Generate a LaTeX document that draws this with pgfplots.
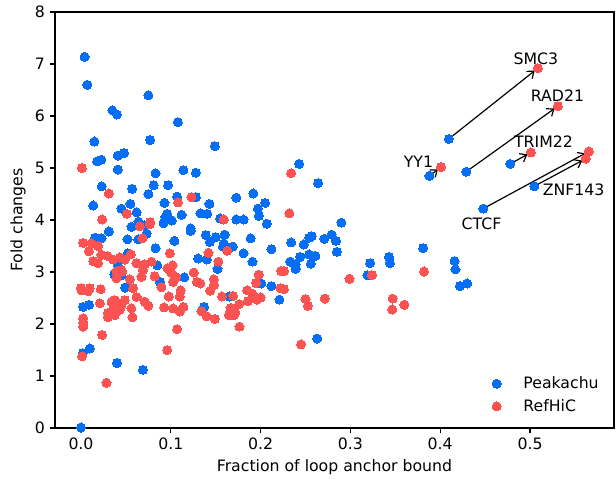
\documentclass[border=0pt]{standalone}
\usepackage{fontspec}
\setmainfont{DejaVu Sans}
\usepackage{pgfplots}
\usepackage{pgfplotstable}
\pgfplotsset{compat=1.18}
\usetikzlibrary{arrows.meta}
\definecolor{pblue}{RGB}{5,110,245}
\definecolor{rred}{RGB}{252,82,82}
\newcommand{\fs}{\fontsize{11.8}{14}\selectfont}
\pgfplotsset{dotlegend/.style={legend image code/.code={\path[draw=none, fill=none] (0cm,0cm) -- (1.0cm,0cm); \draw[##1, only marks] plot coordinates {(0.365cm,0cm)};}}}

\pgfplotstableread{
x y
0.004 7.14
0.007 6.60
0.035 6.11
0.040 6.03
0.075 6.40
0.108 5.88
0.015 5.51
0.077 5.54
0.018 5.13
0.0225 5.16
0.041 5.24
0.048 5.29
0.041 4.97
0.114 4.96
0.083 4.90
0.023 4.65
0.057 4.60
0.081 4.67
0.075 4.50
0.097 4.67
0.107 4.45
0.0136 4.28
0.055 4.31
0.093 4.33
0.045 4.22
0.062 4.15
0.112 4.10
0.096 4.12
0.094 4.06
0.097 4.02
0.101 3.99
0.092 3.94
0.149 5.42
0.128 4.91
0.243 5.08
0.264 4.71
0.128 4.44
0.143 4.31
0.173 4.43
0.192 4.51
0.205 4.33
0.197 4.22
0.198 4.08
0.133 4.13
0.1405 4.12
0.155 4.03
0.173 4.01
0.181 4.01
0.207 3.93
0.290 3.95
0.122 3.84
0.122 3.79
0.104 3.60
0.139 3.71
0.1435 3.58
0.150 3.67
0.160 3.72
0.159 3.55
0.158 3.49
0.169 3.49
0.189 3.65
0.212 3.44
0.181 3.36
0.191 3.20
0.1305 3.26
0.140 3.24
0.152 3.06
0.115 2.90
0.234 3.57
0.248 3.53
0.257 3.69
0.254 3.66
0.271 3.64
0.279 3.72
0.284 3.60
0.285 3.39
0.233 3.20
0.239 3.15
0.239 3.06
0.244 3.29
0.254 3.34
0.261 3.31
0.256 3.16
0.2007 2.78
0.212 2.73
0.221 2.47
0.165 2.53
0.137 2.33
0.263 1.72
0.319 2.94
0.322 3.17
0.0158 3.66
0.0228 3.65
0.031 3.78
0.0562 3.87
0.0518 3.63
0.0637 3.63
0.064 3.97
0.071 3.90
0.073 3.74
0.083 3.46
0.085 3.13
0.088 2.81
0.052 3.36
0.041 3.13
0.037 2.96
0.045 2.94
0.049 2.70
0.0024 2.33
0.009 2.37
0.002 1.44
0.0098 1.53
0.040 1.25
0.069 1.12
0.000 0.01
0.343 3.29
0.344 3.17
0.381 3.46
0.416 3.21
0.417 3.05
0.422 2.73
0.430 2.78
0.4096 5.56
0.429 4.93
0.478 5.08
0.388 4.85
0.448 4.22
0.5047 4.65
}\peak

\pgfplotstableread{
x y
0.001 5.00
0.031 4.51
0.108 4.34
0.051 4.12
0.0236 4.01
0.077 3.96
0.234 4.90
0.123 4.44
0.232 4.13
0.159 4.01
0.142 3.37
0.163 3.41
0.153 3.20
0.223 3.02
0.226 3.02
0.198 2.95
0.195 2.79
0.222 2.69
0.226 2.67
0.1256 2.99
0.129 2.81
0.133 2.78
0.148 2.86
0.148 2.75
0.144 2.64
0.157 2.53
0.1695 2.54
0.185 2.65
0.191 2.58
0.196 2.47
0.186 2.44
0.200 2.51
0.176 2.38
0.1665 2.31
0.1646 2.17
0.172 2.22
0.170 2.17
0.134 2.25
0.140 2.15
0.149 2.10
0.1765 1.95
0.107 1.90
0.250 2.48
0.2526 2.35
0.2715 2.49
0.299 2.87
0.245 1.61
0.0655 3.88
0.0766 3.92
0.0685 3.65
0.0024 3.56
0.0117 3.55
0.0087 3.40
0.019 3.50
0.0136 3.21
0.019 3.17
0.0228 3.33
0.0295 3.31
0.0359 3.24
0.043 3.28
0.049 3.24
0.0555 3.34
0.0618 3.17
0.071 3.15
0.0785 3.20
0.0395 3.01
0.045 3.04
0.046 3.01
0.0395 2.88
0.0544 2.86
0.069 3.04
0.0674 2.91
0.082 2.92
0.058 2.69
0.062 2.52
0.071 2.43
0.075 2.35
0.0896 2.71
0.099 3.36
0.0963 3.07
0.102 3.13
0.1008 2.98
0.106 2.90
0.1027 2.81
0.111 2.65
0.110 2.53
0.114 2.33
0.110 2.24
0.0978 2.53
0.0926 2.32
0.1027 2.30
0.096 1.50
0.000 2.69
0.0006 2.65
0.0098 2.69
0.008 2.63
0.022 2.67
0.021 2.40
0.0024 2.11
0.0024 2.03
0.0024 1.95
0.0236 1.79
0.0013 1.38
0.0284 0.87
0.034 2.43
0.0376 2.46
0.041 2.40
0.043 2.27
0.0359 2.30
0.030 2.21
0.0376 2.17
0.045 2.37
0.0488 2.46
0.0562 2.30
0.0573 2.13
0.030 2.13
0.324 2.94
0.347 2.49
0.3466 2.28
0.360 2.37
0.382 3.01
0.5087 6.92
0.531 6.19
0.501 5.30
0.401 5.02
0.5655 5.32
0.562 5.18
}\refhic

\begin{document}
\begin{tikzpicture}
\begin{axis}[
  at={(0,0)}, anchor=south west,
  scale only axis, width=5.808in, height=4.322in,
  xmin=-0.029, xmax=0.5935, ymin=0, ymax=8,
  xtick={0,0.1,0.2,0.3,0.4,0.5},
  ytick={0,1,2,3,4,5,6,7,8},
  xticklabel style={/pgf/number format/.cd, fixed, fixed zerofill, precision=1},
  /pgf/number format/assume math mode=true,
  tick align=outside, tick pos=left, major tick length=4pt,
  axis line style={line width=0.9pt},
  every tick/.style={black, line width=0.9pt},
  tick label style={font=\fs},
  xlabel={Fraction of loop anchor bound},
  ylabel={Fold changes},
  every axis x label/.style={at={(axis description cs:0.5,-0.094)}, anchor=center, font=\fs},
  every axis y label/.style={at={(axis description cs:-0.066,0.5)}, rotate=90, anchor=center, font=\fs},
  legend style={at={(0.985,0.022)}, anchor=south east, draw=none, fill=none,
    font=\fs, row sep=2.5pt},
  legend cell align=left,
]
\addplot[only marks, dotlegend, mark=*, mark size=3.4pt, mark options={fill=pblue, draw=pblue, line width=0pt}] table[x=x,y=y] {\peak};
\addlegendentry{Peakachu}
\addplot[only marks, dotlegend, mark=*, mark size=3.4pt, mark options={fill=rred, draw=rred, line width=0pt}] table[x=x,y=y] {\refhic};
\addlegendentry{RefHiC}

\begin{scope}[line width=0.9pt, -{Straight Barb[length=4.5pt,width=7pt]}, shorten <=3pt, shorten >=3pt]
\draw (axis cs:0.4096,5.56) -- (axis cs:0.5087,6.92);
\draw (axis cs:0.429,4.93) -- (axis cs:0.531,6.19);
\draw (axis cs:0.478,5.08) -- (axis cs:0.501,5.30);
\draw (axis cs:0.388,4.85) -- (axis cs:0.401,5.02);
\draw (axis cs:0.448,4.22) -- (axis cs:0.5655,5.32);
\draw (axis cs:0.5047,4.65) -- (axis cs:0.562,5.18);
\end{scope}
\begin{scope}[every node/.style={font=\fs, inner sep=0pt}]
\node at (axis cs:0.5065,7.10) {SMC3};
\node at (axis cs:0.5306,6.385) {RAD21};
\node at (axis cs:0.515,5.50) {TRIM22};
\node at (axis cs:0.3758,5.115) {YY1};
\node at (axis cs:0.446,3.923) {CTCF};
\node at (axis cs:0.5485,4.58) {ZNF143};
\end{scope}
\end{axis}
\pgfresetboundingbox
\path (-0.571in,-0.561in) rectangle (5.829in,4.447in);
\end{tikzpicture}
\end{document}
